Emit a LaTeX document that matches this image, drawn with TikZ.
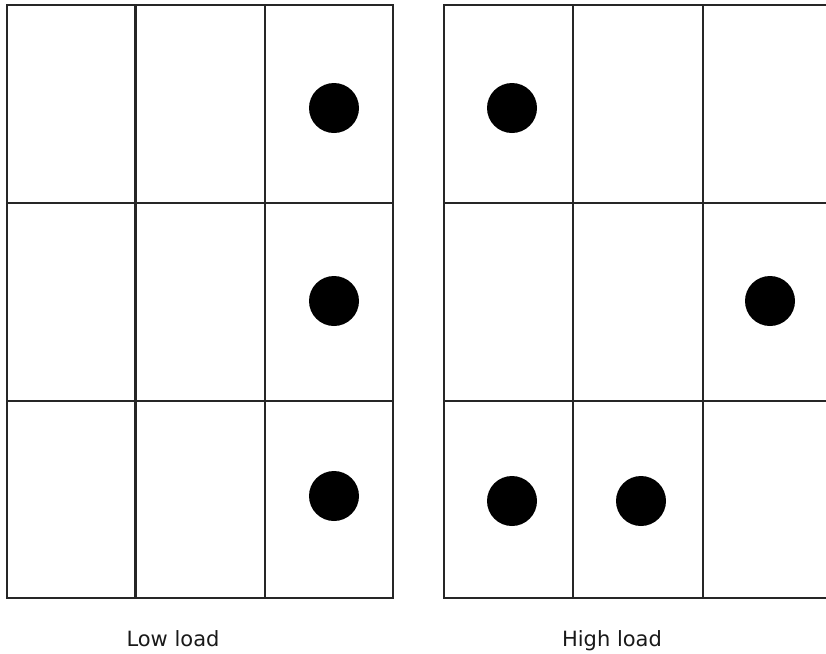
\documentclass[tikz,border=0pt]{standalone}
\usepackage{fontspec}
\setmainfont{DejaVu Sans}
\begin{document}
\begin{tikzpicture}[x=0.5pt,y=-0.5pt,line width=1.2pt]
\useasboundingbox (0,0) rectangle (826,654);

% low load grid
\draw[black!85] (7,5) rectangle (393,598);
\draw[black!85] (135.5,5) -- (135.5,598);
\draw[black!85] (265,5) -- (265,598);
\draw[black!85] (7,203) -- (393,203);
\draw[black!85] (7,401) -- (393,401);

% high load grid
\draw[black!85] (826,5) -- (444,5) -- (444,598) -- (826,598);
\draw[black!85] (573,5) -- (573,598);
\draw[black!85] (703,5) -- (703,598);
\draw[black!85] (444,203) -- (826,203);
\draw[black!85] (444,401) -- (826,401);

% dots
\fill (334,108) circle (25);
\fill (334,301) circle (25);
\fill (334,496) circle (25);
\fill (512,108) circle (25);
\fill (770,301) circle (25);
\fill (512,501) circle (25);
\fill (641,501) circle (25);

\node[anchor=base,text=black!90] (low) at (173,646) {\fontsize{10.5}{12}\selectfont Low load};
\node[anchor=base,text=black!90] (high) at (612,646) {\fontsize{10.5}{12}\selectfont High load};
\end{tikzpicture}
\end{document}
